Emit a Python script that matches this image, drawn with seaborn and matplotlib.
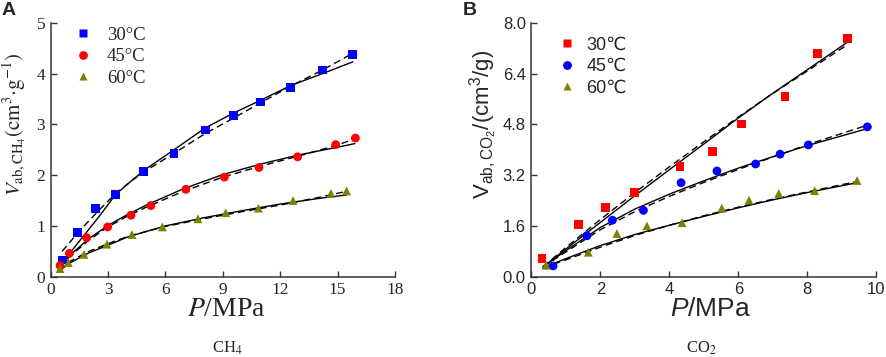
import numpy as np
import pandas as pd
import matplotlib
matplotlib.use("Agg")
import matplotlib.pyplot as plt
import seaborn as sns

# ========== data ==========
temps = ["30", "45", "60"]

# --- panel A: CH4 ---
ch4_p_30 = [0.63, 1.39, 2.33, 3.40, 4.86, 6.45, 8.09, 9.55, 10.96, 12.53, 14.22, 15.77]
ch4_v_30 = [0.33, 0.87, 1.35, 1.62, 2.07, 2.42, 2.89, 3.18, 3.44, 3.73, 4.07, 4.38]
ch4_p_45 = [0.49, 0.98, 1.88, 2.98, 4.20, 5.24, 7.07, 9.08, 10.89, 12.91, 14.90, 15.93]
ch4_v_45 = [0.22, 0.46, 0.77, 0.98, 1.21, 1.40, 1.72, 1.96, 2.15, 2.36, 2.60, 2.73]
ch4_p_60 = [0.49, 0.92, 1.74, 2.94, 4.25, 5.84, 7.70, 9.15, 10.86, 12.67, 14.65, 15.47]
ch4_v_60 = [0.16, 0.28, 0.44, 0.64, 0.83, 0.98, 1.14, 1.26, 1.35, 1.50, 1.64, 1.69]

# fitted curves (solid / dashed)
ch4_fit_p_30 = [0.6, 1.5, 2.5, 3.4, 4.2, 4.86, 6.45, 8.09, 9.55, 10.96, 12.53, 14.22, 15.8]
ch4_fit_solid_30 = [0.27, 0.70, 1.17, 1.62, 1.88, 2.09, 2.50, 2.93, 3.22, 3.47, 3.76, 4.00, 4.23]
ch4_fit_dash_30 = [0.50, 0.90, 1.30, 1.64, 1.88, 2.06, 2.43, 2.82, 3.12, 3.42, 3.75, 4.07, 4.40]
ch4_fit_p_45 = [0.5, 1, 2, 3, 4, 5, 7, 9, 11, 13, 15, 15.9]
ch4_fit_solid_45 = [0.18, 0.42, 0.75, 1.01, 1.22, 1.41, 1.74, 2.01, 2.22, 2.40, 2.55, 2.62]
ch4_fit_dash_45 = [0.20, 0.40, 0.72, 0.98, 1.19, 1.37, 1.69, 1.96, 2.18, 2.38, 2.59, 2.72]
ch4_fit_p_60 = [0.5, 1, 2, 3, 4, 6, 8, 10, 12, 14, 15.47]
ch4_fit_solid_60 = [0.13, 0.27, 0.47, 0.62, 0.78, 1.00, 1.16, 1.30, 1.43, 1.54, 1.61]
ch4_fit_dash_60 = [0.13, 0.30, 0.50, 0.65, 0.79, 0.99, 1.14, 1.28, 1.41, 1.56, 1.68]

# --- panel B: CO2 ---
co2_p_30 = [0.31, 1.36, 2.15, 2.98, 4.31, 5.25, 6.09, 7.35, 8.29, 9.17]
co2_v_30 = [0.57, 1.64, 2.18, 2.66, 3.48, 3.94, 4.81, 5.68, 7.02, 7.51]
co2_p_45 = [0.63, 1.61, 2.35, 3.25, 4.34, 5.38, 6.50, 7.21, 8.03, 9.74]
co2_v_45 = [0.34, 1.29, 1.78, 2.09, 2.96, 3.33, 3.55, 3.86, 4.15, 4.72]
co2_p_60 = [0.43, 1.65, 2.48, 3.35, 4.37, 5.52, 6.31, 7.17, 8.21, 9.44]
co2_v_60 = [0.36, 0.77, 1.36, 1.60, 1.70, 2.16, 2.41, 2.62, 2.71, 3.03]

co2_fit_p_30 = [0.34, 1, 2, 3, 4, 5, 6, 7, 8, 9.18]
co2_fit_solid_30 = [0.31, 0.87, 1.71, 2.55, 3.37, 4.18, 5.00, 5.78, 6.52, 7.40]
co2_fit_dash_30 = [0.31, 0.92, 1.80, 2.65, 3.46, 4.25, 5.03, 5.77, 6.48, 7.32]
co2_fit_p_45 = [0.34, 1, 2, 3, 4, 5, 6, 7, 8, 9.76]
co2_fit_solid_45 = [0.31, 0.82, 1.55, 2.13, 2.60, 3.02, 3.42, 3.78, 4.13, 4.67]
co2_fit_dash_45 = [0.31, 0.78, 1.48, 2.05, 2.53, 2.97, 3.38, 3.77, 4.16, 4.78]
co2_fit_p_60 = [0.34, 1, 2, 3, 4, 5, 6, 7, 8, 9.44]
co2_fit_solid_60 = [0.28, 0.57, 0.98, 1.33, 1.62, 1.90, 2.17, 2.42, 2.65, 2.96]
co2_fit_dash_60 = [0.28, 0.53, 0.93, 1.30, 1.62, 1.92, 2.19, 2.44, 2.67, 3.00]

# ========== style ==========
sns.set_style("ticks")
plt.rcParams["mathtext.fontset"] = "custom"
plt.rcParams["mathtext.rm"] = "Liberation Sans"
plt.rcParams["mathtext.it"] = "Liberation Sans:italic"
plt.rcParams["mathtext.bf"] = "Liberation Sans:bold"
plt.rcParams["xtick.direction"] = "in"
plt.rcParams["ytick.direction"] = "in"

SERIF = ["Liberation Serif", "DejaVu Serif"]
SANS = ["Liberation Sans", "DejaVu Sans"]

fig = plt.figure(figsize=(8.86, 3.57), dpi=100)
axA = fig.add_axes([0.0572, 0.2249, 0.3886, 0.7115])
axB = fig.add_axes([0.5997, 0.2249, 0.3894, 0.7115])

blue = "#0000ff"
red = "#ff0000"
olive = "#808000"


def make_points(ps, vs):
    rows = []
    for t, p, v in zip(temps, ps, vs):
        rows += [{"P": a, "V": b, "T": t} for a, b in zip(p, v)]
    return pd.DataFrame(rows)


def draw_fits(ax, ps, solids, dashes):
    for p, s, d in zip(ps, solids, dashes):
        sns.lineplot(x=p, y=s, ax=ax, color="black", lw=1.0, sort=False,
                     estimator=None)
        sns.lineplot(x=p, y=d, ax=ax, color="black", lw=1.0, sort=False,
                     estimator=None, linestyle=(0, (5, 3)))


# ---------- panel A ----------
dfA = make_points([ch4_p_30, ch4_p_45, ch4_p_60], [ch4_v_30, ch4_v_45, ch4_v_60])
draw_fits(axA, [ch4_fit_p_30, ch4_fit_p_45, ch4_fit_p_60],
          [ch4_fit_solid_30, ch4_fit_solid_45, ch4_fit_solid_60],
          [ch4_fit_dash_30, ch4_fit_dash_45, ch4_fit_dash_60])
sns.scatterplot(data=dfA, x="P", y="V", hue="T", style="T",
                palette={"30": blue, "45": red, "60": olive},
                markers={"30": "s", "45": "o", "60": "^"},
                s=40, edgecolor="none", ax=axA, zorder=3)

axA.set_xlim(0, 18)
axA.set_ylim(0, 5)
axA.set_xticks(np.arange(0, 19, 3))
axA.set_yticks(np.arange(0, 6, 1))
for lab in axA.get_xticklabels() + axA.get_yticklabels():
    lab.set_family(SERIF)
    lab.set_fontsize(12.5)
axA.set_xlabel(r"$P$/MPa", family=SERIF, math_fontfamily="stix", fontsize=20)
axA.set_ylabel(r"$V_{\mathrm{ab,CH_4}}\mathrm{(cm^3{\cdot}g^{-1})}$",
               family=SERIF, math_fontfamily="stix", fontsize=15)
axA.xaxis.set_label_coords(0.51, -0.08)
axA.yaxis.set_label_coords(-0.07, 0.6)
handles, _ = axA.get_legend_handles_labels()
axA.legend(handles, ["30°C", "45°C", "60°C"], loc="upper left",
           bbox_to_anchor=(0.0665, 0.985), frameon=False,
           prop={"family": SERIF, "size": 13.5}, handlelength=1.0,
           handletextpad=0.78, labelspacing=0.23, borderpad=0,
           borderaxespad=0)

# ---------- panel B ----------
dfB = make_points([co2_p_30, co2_p_45, co2_p_60], [co2_v_30, co2_v_45, co2_v_60])
draw_fits(axB, [co2_fit_p_30, co2_fit_p_45, co2_fit_p_60],
          [co2_fit_solid_30, co2_fit_solid_45, co2_fit_solid_60],
          [co2_fit_dash_30, co2_fit_dash_45, co2_fit_dash_60])
sns.scatterplot(data=dfB, x="P", y="V", hue="T", style="T",
                palette={"30": red, "45": blue, "60": olive},
                markers={"30": "s", "45": "o", "60": "^"},
                s=40, edgecolor="none", ax=axB, zorder=3)

axB.set_xlim(0, 10)
axB.set_ylim(0, 8)
axB.set_xticks(np.arange(0, 11, 2))
axB.set_yticks(np.arange(0, 8.01, 1.6))
axB.set_yticklabels([f"{v:.1f}" for v in np.arange(0, 8.01, 1.6)])
for lab in axB.get_xticklabels() + axB.get_yticklabels():
    lab.set_family(SANS)
    lab.set_fontsize(12)
axB.set_xlabel(r"$P$/MPa", family=SANS, math_fontfamily="custom", fontsize=19)
axB.set_ylabel(r"$\mathrm{V}_{\mathrm{ab,CO_2}}\mathrm{/(cm^3/g)}$",
               family=SANS, math_fontfamily="custom", fontsize=16)
axB.xaxis.set_label_coords(0.52, -0.08)
axB.yaxis.set_label_coords(-0.09, 0.6)
handles, _ = axB.get_legend_handles_labels()
axB.legend(handles, ["30℃", "45℃", "60℃"], loc="upper left",
           bbox_to_anchor=(0.0775, 0.945), frameon=False,
           prop={"family": SANS, "size": 13}, handlelength=1.0,
           handletextpad=0.56, labelspacing=0.25, borderpad=0,
           borderaxespad=0)

for ax in (axA, axB):
    sns.despine(ax=ax)
    for sp in ("left", "bottom"):
        ax.spines[sp].set_linewidth(1.1)
        ax.spines[sp].set_color("#333333")
    ax.tick_params(length=4, width=1.0, color="#333333", pad=4)

# panel letters and captions
fig.text(0.002, 0.995, "A", family=SANS, weight="bold", fontsize=14, va="top")
fig.text(0.522, 0.995, "B", family=SANS, weight="bold", fontsize=14, va="top")
fig.text(227 / 886, 1 - 348 / 357, r"CH$_4$", family=SERIF, math_fontfamily="stix",
         fontsize=12, ha="center", va="center")
fig.text(701 / 886, 1 - 348 / 357, r"CO$_2$", family=SERIF, math_fontfamily="stix",
         fontsize=12, ha="center", va="center")

fig.savefig("out.png", dpi=100)
